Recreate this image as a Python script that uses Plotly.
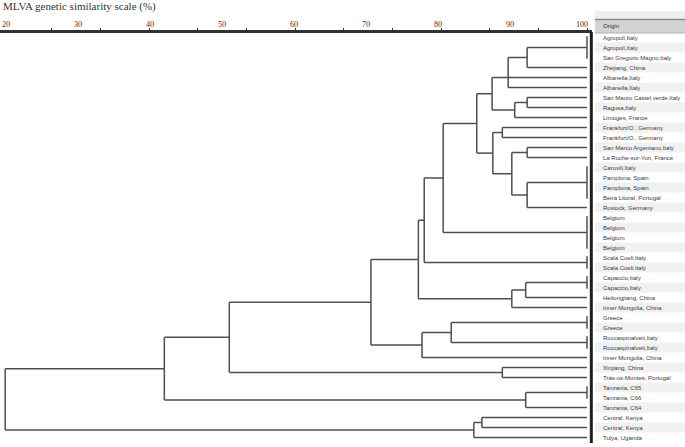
import plotly.graph_objects as go

# ---------------- data ----------------
origins = [
    "Agropoli,Italy", "Agropoli,Italy", "San Gregorio Magno,Italy", "Zhejiang, China",
    "Albanella,Italy", "Albanella,Italy", "San Mauro Castel verde,Italy", "Ragusa,Italy",
    "Limoges, France", "Frankfurt/O., Germany", "Frankfurt/O., Germany",
    "San Marco Argentano,Italy", "La Roche-sur-Yon, France", "Carovili,Italy",
    "Pamplona, Spain", "Pamplona, Spain", "Beira Litoral, Portugal", "Rostock, Germany",
    "Belgium", "Belgium", "Belgium", "Belgium", "Scala Coeli,Italy", "Scala Coeli,Italy",
    "Capaccio,Italy", "Capaccio,Italy", "Heilongjiang, China", "Inner Mongolia, China",
    "Greece", "Greece", "Roccaspinalveti,Italy", "Roccaspinalveti,Italy",
    "Inner Mongolia, China", "Xinjiang, China", "Trás-os-Montes, Portugal",
    "Tanzania, C65", "Tanzania, C66", "Tanzania, C64", "Central, Kenya", "Central, Kenya",
    "Tulya, Uganda",
]

# dendrogram nodes: name, similarity (%), children
# children: int = leaf row, tuple = identical leaves (100 %), str = node
node_names = ["agro", "alb", "smauro", "lim", "A", "frank", "smarco", "carov", "sp", "B", "C",
              "bel", "scala", "capac", "imong", "D", "greece", "E", "F", "xinj", "G",
              "tanz", "H", "kenya", "uganda", "root"]
node_similarity = [91.8, 89.2, 91.8, 90.1, 87.0, 88.4, 91.8, 91.8, 89.7, 87.1, 84.9,
                   80.3, 77.7, 91.6, 89.7, 76.9, 81.4, 77.4, 70.4, 88.4, 51.0,
                   91.6, 42.1, 85.6, 84.5, 20.3]
node_children = [
    [(0, 1, 2), 3], ["agro", 4, 5], [6, 7], ["smauro", 8], ["alb", "lim"],
    [9, 10], [11, 12], [(13, 14, 15, 16), 17], ["smarco", "carov"], ["frank", "sp"],
    ["A", "B"], ["C", (18, 19, 20, 21)], ["bel", (22, 23)], [(24, 25), 26],
    ["capac", 27], ["scala", "imong"], [(28, 29), (30, 31)], ["greece", 32],
    ["D", "E"], [33, 34], ["F", "xinj"], [(35, 36), 37], ["G", "tanz"],
    [38, 39], ["kenya", 40], ["H", "uganda"],
]

scale_labels = [20, 30, 40, 50, 60, 70, 80, 90, 100]
scale_marks = [26.67, 33.33, 40, 46.67, 53.33, 60, 66.67, 73.33, 80, 86.67, 93.33, 100]
title_text = "MLVA genetic similarity scale (%)"
header_text = "Origin"

# ---------------- geometry ----------------
sim = dict(zip(node_names, node_similarity))
kids = dict(zip(node_names, node_children))
FULL = 100.0

xs, ys = [], []
node_y = {}


def child_pos(c):
    if isinstance(c, int):
        return FULL, c
    if isinstance(c, tuple):
        xs.extend([FULL, FULL, None])
        ys.extend([min(c) - 0.12, max(c) + 0.12, None])
        return FULL, sum(c) / len(c)
    return sim[c], get_y(c)


def get_y(n):
    if n in node_y:
        return node_y[n]
    pts = [child_pos(c) for c in kids[n]]
    yy = [p[1] for p in pts]
    if len(yy) == 2:
        y = (yy[0] + yy[1]) / 2
    else:
        y = sorted(yy)[len(yy) // 2]
    s = sim[n]
    xs.extend([s, s, None])
    ys.extend([min(yy), max(yy), None])
    for (cx, cy) in pts:
        xs.extend([s, cx, None])
        ys.extend([cy, cy, None])
    node_y[n] = y
    return y


get_y("root")

W, H = 685, 447
TOP, ROW0, ROWH = 33, 37.5, 10.0
y_top = (TOP - ROW0) / ROWH
y_bot = (H - ROW0) / ROWH
XR = 592
x0 = 20 - 3 / 7.3
x1 = x0 + XR / 7.3
lx0 = 20 - 6 / 7.2
lx1 = lx0 + XR / 7.2
dom = XR / W


def py(px):  # pixel -> paper y
    return (H - px) / (H - TOP)


fig = go.Figure()
fig.add_trace(go.Scatter(x=xs, y=ys, mode="lines",
                         line=dict(color="#4f4f4f", width=1.5),
                         hoverinfo="skip", showlegend=False, cliponaxis=False))
fig.add_trace(go.Scatter(x=[50], y=[0], xaxis="x2", mode="markers",
                         marker=dict(opacity=0), hoverinfo="skip", showlegend=False))

shapes = []
# table stripes
tx0 = 595 / W
for i in range(len(origins)):
    if i % 2 == 1:
        shapes.append(dict(type="rect", xref="paper", yref="y", x0=tx0, x1=1,
                           y0=i - 0.5, y1=i + 0.5, fillcolor="#f1f1f1",
                           line=dict(width=0), layer="below"))
# header
shapes.append(dict(type="rect", xref="paper", yref="paper", x0=tx0, x1=1,
                   y0=py(19.5), y1=py(11), fillcolor="#eeeeee", line=dict(width=0)))
shapes.append(dict(type="rect", xref="paper", yref="paper", x0=tx0, x1=1,
                   y0=py(33), y1=py(19.5), fillcolor="#d3d3d3", line=dict(width=0)))
shapes.append(dict(type="line", xref="paper", yref="paper", x0=tx0, x1=1,
                   y0=py(19.5), y1=py(19.5), line=dict(color="#8a8a8a", width=1.5)))
shapes.append(dict(type="line", xref="paper", yref="paper", x0=tx0, x1=1,
                   y0=py(33), y1=py(33), line=dict(color="#b0b0b0", width=1)))
# right border of dendrogram
shapes.append(dict(type="line", xref="paper", yref="paper", x0=dom - 0.001, x1=dom - 0.001,
                   y0=py(443), y1=py(32), line=dict(color="#1e1e1e", width=3)))

annotations = []
for i, lab in enumerate(origins):
    annotations.append(dict(text=lab, xref="paper", yref="y", x=601 / W, y=i,
                            xanchor="left", yanchor="middle", showarrow=False,
                            font=dict(family="Liberation Sans", size=6, color="#3a3a3a")))
annotations.append(dict(text=header_text, xref="paper", yref="paper", x=601 / W, y=py(26.5),
                        xanchor="left", yanchor="middle", showarrow=False,
                        font=dict(family="Liberation Sans", size=6, color="#303030")))
annotations.append(dict(text=title_text, xref="paper", yref="paper", x=0.002, y=py(7),
                        xanchor="left", yanchor="middle", showarrow=False,
                        font=dict(family="Liberation Serif", size=11, color="#333333")))

fig.update_layout(
    width=W, height=H,
    margin=dict(l=0, r=0, t=TOP, b=0, autoexpand=False),
    paper_bgcolor="white", plot_bgcolor="white",
    shapes=shapes, annotations=annotations,
    xaxis=dict(range=[x0, x1], domain=[0, dom], side="top", showline=True,
               linewidth=3, linecolor="#303030", tickvals=scale_marks, ticks="outside",
               ticklen=2, tickwidth=1.2, tickcolor="#303030", showticklabels=False,
               showgrid=False, zeroline=False, fixedrange=True, automargin=False),
    xaxis2=dict(range=[lx0, lx1], overlaying="x", anchor="y", side="top",
                tickvals=scale_labels, ticktext=[str(v) for v in scale_labels],
                ticks="", showline=False, showgrid=False, zeroline=False,
                tickfont=dict(family="Liberation Serif", size=8, color="#333333"),
                ticklabelstandoff=3, ticklabeloverflow="allow", automargin=False),
    yaxis=dict(range=[y_bot, y_top], visible=False, showgrid=False, zeroline=False,
               fixedrange=True, automargin=False),
)

fig.write_html("out.html", config={"displayModeBar": False},
               post_script="document.body.style.margin='0';document.body.style.padding='0';")
